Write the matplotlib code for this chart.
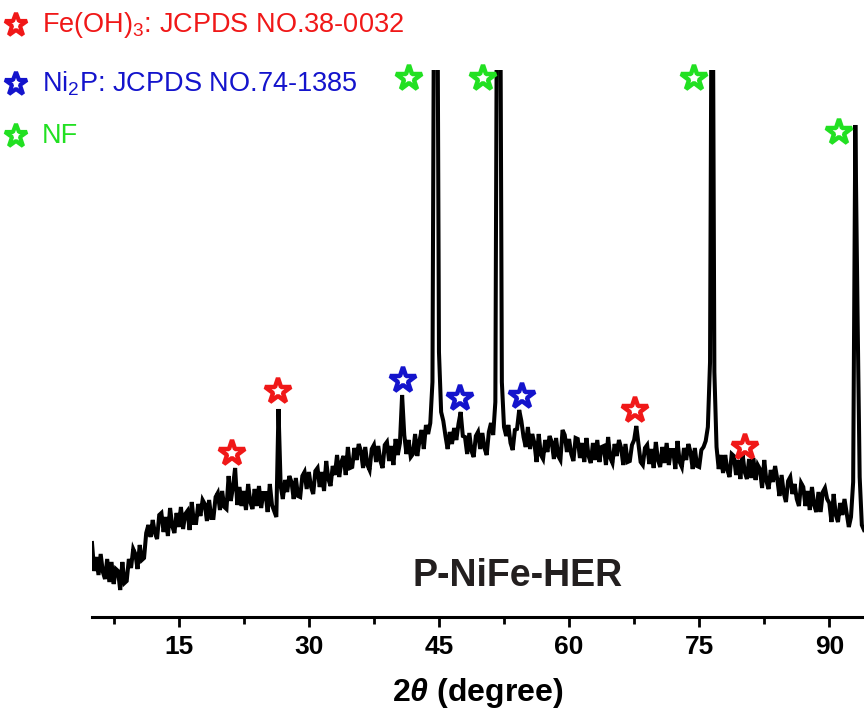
import numpy as np
import matplotlib.pyplot as plt
from matplotlib.ticker import MultipleLocator

plt.rcParams['font.family'] = ['Liberation Sans', 'DejaVu Sans']
plt.rcParams['mathtext.fontset'] = 'custom'
plt.rcParams['mathtext.rm'] = 'Liberation Sans'
plt.rcParams['mathtext.it'] = 'Liberation Sans:italic:bold'
plt.rcParams['mathtext.bf'] = 'Liberation Sans:bold'

# XRD pattern of P-NiFe-HER, sampled every 0.25 deg from 5 to 94 (a.u.)
two_theta = np.arange(5, 94.001, 0.25)
intensity = [
    74, 46, 60, 42,      # 5
    63, 45, 38, 58,      # 6
    35, 55, 33, 48,      # 7
    46, 27, 55, 34,      # 8
    36, 58, 49, 68,      # 9
    63, 48, 72, 57,      # 10
    59, 84, 92, 80,      # 11
    97, 84, 78, 102,     # 12
    104, 85, 100, 81,    # 13
    109, 91, 84, 104,    # 14
    90, 110, 88, 103,    # 15
    106, 87, 115, 94,    # 16
    94, 113, 101, 117,   # 17
    113, 96, 117, 99,    # 18
    99, 120, 124, 107,   # 19
    126, 110, 108, 141,  # 20
    116, 130, 149, 112,  # 21
    130, 111, 126, 107,  # 22
    133, 115, 108, 128,  # 23
    111, 131, 109, 124,  # 24
    124, 105, 133, 112,  # 25
    106, 100, 208, 131,  # 26
    118, 137, 125, 141,  # 27
    135, 118, 139, 121,  # 28
    120, 141, 145, 128,  # 29
    145, 130, 123, 146,  # 30
    149, 130, 145, 126,  # 31
    156, 138, 131, 151,  # 32
    142, 162, 140, 155,  # 33
    161, 142, 170, 149,  # 34
    150, 169, 157, 173,  # 35
    166, 149, 170, 152,  # 36
    147, 168, 172, 155,  # 37
    171, 156, 149, 172,  # 38
    175, 156, 171, 152,  # 39
    178, 162, 174, 222,  # 40
    182, 163, 177, 160,  # 41
    163, 183, 161, 176,  # 42
    187, 168, 192, 183,  # 43
    194, 235, 800, 800,  # 44
    265, 205, 196, 181,  # 45
    168, 185, 173, 189,  # 46
    177, 193, 205, 181,  # 47
    180, 163, 184, 166,  # 48
    160, 181, 185, 168,  # 49
    184, 169, 162, 185,  # 50
    194, 182, 215, 800,  # 51
    800, 235, 190, 181,  # 52
    192, 174, 167, 187,  # 53
    188, 207, 196, 180,  # 54
    170, 190, 168, 183,  # 55
    174, 155, 183, 162,  # 56
    158, 177, 165, 181,  # 57
    175, 158, 179, 161,  # 58
    157, 187, 182, 165,  # 59
    178, 163, 156, 179,  # 60
    178, 159, 174, 155,  # 61
    179, 161, 154, 174,  # 62
    157, 177, 155, 170,  # 63
    171, 152, 180, 159,  # 64
    154, 173, 161, 177,  # 65
    169, 152, 173, 155,  # 66
    156, 172, 177, 191,  # 67
    173, 155, 152, 169,  # 68
    172, 153, 168, 149,  # 69
    175, 157, 150, 170,  # 70
    154, 174, 152, 167,  # 71
    167, 148, 176, 155,  # 72
    150, 169, 157, 173,  # 73
    165, 148, 169, 151,  # 74
    150, 167, 170, 176,  # 75
    190, 255, 800, 245,  # 76
    170, 148, 162, 144,  # 77
    162, 147, 140, 163,  # 78
    161, 142, 157, 138,  # 79
    163, 145, 138, 158,  # 80
    139, 159, 137, 152,  # 81
    148, 129, 157, 136,  # 82
    128, 147, 135, 151,  # 83
    138, 121, 142, 124,  # 84
    115, 136, 140, 123,  # 85
    133, 118, 111, 134,  # 86
    130, 111, 126, 107,  # 87
    130, 112, 105, 125,  # 88
    105, 125, 129, 118,  # 89
    114, 95, 123, 102,   # 90
    95, 114, 102, 118,   # 91
    104, 90, 100, 135,   # 92
    492, 307, 140, 92,   # 93
    87,                  # 94
]

# phase markers: positions (deg) and heights of the stars
fe_oh3_pos = [21.1, 26.4, 67.6, 80.3]
fe_oh3_h = [164, 226, 207, 170]
ni2p_pos = [40.8, 47.4, 54.6]
ni2p_h = [237, 219, 221]
nf_pos = [41.5, 50.1, 74.4, 91.1]
nf_h = [539, 539, 539, 485]

legend_labels = [r'Fe(OH)$_\mathregular{3}$: JCPDS NO.38-0032',
                 r'Ni$_\mathregular{2}$P: JCPDS NO.74-1385',
                 'NF']

RED = '#f01818'
BLUE = '#1414cc'
GREEN = '#22e022'

W, H = 864, 715
fig = plt.figure(figsize=(W / 100, H / 100), dpi=100)
ax = fig.add_axes([92 / W, 1 - 617 / H, 1 - 92 / W, (617 - 70) / H])

ax.plot(two_theta, intensity, color='black', lw=2.9, solid_joinstyle='miter')

for pos, h, col in [(fe_oh3_pos, fe_oh3_h, RED),
                    (ni2p_pos, ni2p_h, BLUE),
                    (nf_pos, nf_h, GREEN)]:
    ax.plot(pos, h, ls='none', marker='*', ms=19, mfc='white',
            mec=col, mew=3.2, clip_on=False, zorder=5)

ax.set_xlim(5, 94)
ax.set_ylim(0, 547)
for s in ['left', 'right', 'top']:
    ax.spines[s].set_visible(False)
ax.spines['bottom'].set_linewidth(2.2)
ax.set_yticks([])
ax.xaxis.set_major_locator(MultipleLocator(15))
ax.xaxis.set_minor_locator(MultipleLocator(7.5))
ax.tick_params(axis='x', which='major', length=7, width=2, labelsize=19, pad=6)
ax.tick_params(axis='x', which='minor', length=5, width=2)
for lab in ax.get_xticklabels():
    lab.set_fontweight('bold')

ax.set_xlabel(r'2$\theta$ (degree)', fontsize=23, fontweight='bold')
ax.xaxis.set_label_coords(0.5, -0.108)

ax.text(54.1, 41, 'P-NiFe-HER', fontsize=27, fontweight='bold',
        color='#231f1f', ha='center', va='center')

# legend drawn as stars + coloured text in the upper left
legend_y = [25, 84, 136]
for lab, ypix, col in zip(legend_labels, legend_y, [RED, BLUE, GREEN]):
    fig.text(42 / W, 1 - ypix / H, lab, color=col, fontsize=19.5,
             ha='left', va='center')
    ax.plot([16 / W], [1 - ypix / H], transform=fig.transFigure, ls='none',
            marker='*', ms=17, mfc='white', mec=col, mew=3.0, clip_on=False)

fig.savefig('out.png', dpi=100)
